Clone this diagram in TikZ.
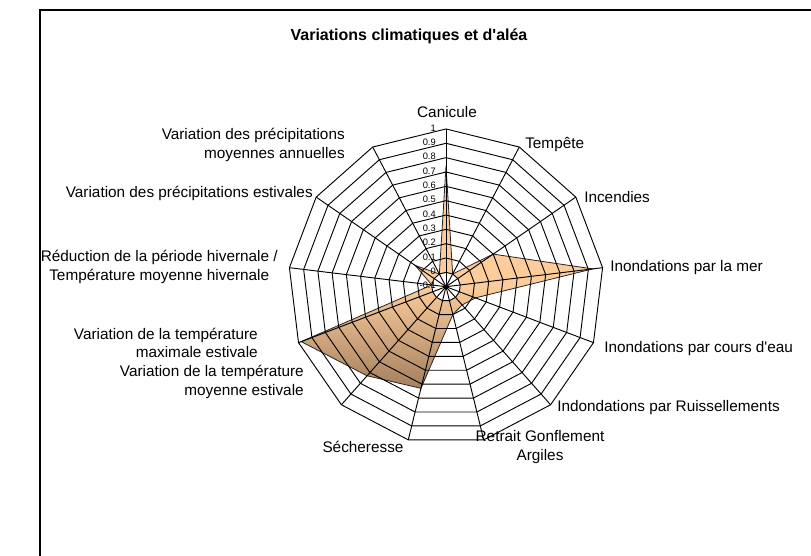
\documentclass[tikz,border=0pt]{standalone}
\usepackage{fontspec}
\newfontfamily\chartfont{Liberation Sans}
\definecolor{peachLight}{RGB}{252,204,154}
\definecolor{peachDark}{RGB}{163,128,95}
\pgfdeclareverticalshading{peachFade}{100bp}{color(0bp)=(peachDark); color(25bp)=(peachDark);
  color(48bp)=(peachLight); color(100bp)=(peachLight)}

\begin{document}
\begin{tikzpicture}
[x=0.75pt,y=0.75pt,
  gridLine/.style={line width=0.7pt,color=black},
  areaFill/.style={draw=black!85,line width=0.6pt,shading=peachFade},
  axisLabel/.style={font=\chartfont\fontsize{11.5}{14}\selectfont,inner sep=0pt},
  tickLabel/.style={font=\chartfont\fontsize{7}{8}\selectfont,anchor=east,inner sep=0pt},
  titleText/.style={font=\chartfont\fontsize{12}{14}\selectfont\bfseries,inner sep=0pt}]
\useasboundingbox (0,0) rectangle (811,-556);
%% frame and title
\draw[line width=0.8pt] (40,-556) -- (40,-10) -- (811,-10);
\node[titleText] (title) at (409,-36) {Variations climatiques et d'aléa};
\begin{scope}[shift={(446,-286.7)}]
%% axis ends and data points
\coordinate (hub) at (0,0);
\foreach \v [count=\i from 0] in {0.74,0,0.3,0.93,0.12,0.07,0.1,0.63,0.73,0.98,0,0.16,0}
{
  \coordinate (tip\i) at ({90-\i*360/13}:157.7);
  \coordinate (val\i) at ({90-\i*360/13}:{143.4*(\v+0.1)});
}
%% the filled area
\shadedraw[areaFill] (val0) \foreach \i in {1,...,12}{ -- (val\i)} -- cycle;
\fill[white] (90:14.34) \foreach \i in {1,...,12}{ -- ({90-\i*360/13}:14.34)} -- cycle;
%% rings and spokes
\foreach \k in {1,...,11}
{
  \draw[gridLine] (90:{\k*14.34}) \foreach \i in {1,...,12}{ -- ({90-\i*360/13}:{\k*14.34})} -- cycle;
}
\foreach \i in {0,...,12}
{
  \draw[gridLine] (hub) -- (tip\i);
}
%% scale
\foreach \t [count=\k from 0] in {-0.1,0,0.1,0.2,0.3,0.4,0.5,0.6,0.7,0.8,0.9,1}
{
  \node[tickLabel] (tick\k) at (-10,{\k*14.34+1}) {\t};
}
\fill (hub) circle (2);
\end{scope}
%% category labels
\node[axisLabel] (canicule) at (447,-112) {Canicule};
\node[axisLabel,anchor=west] (tempete) at (525,-145) {Tempête};
\node[axisLabel,anchor=west] (incendies) at (584,-197) {Incendies};
\node[axisLabel,anchor=west] (mer) at (610,-268) {Inondations par la mer};
\node[axisLabel,anchor=west] (coursdeau) at (604,-349) {Inondations par cours d'eau};
\node[axisLabel,anchor=west] (ruissel) at (557,-408) {Indondations par Ruissellements};
\node[axisLabel,align=center] (retrait) at (540,-447) {Retrait Gonflement\\Argiles};
\node[axisLabel] (secheresse) at (363,-447) {Sécheresse};
\node[axisLabel,anchor=east,align=right] (tempMoy) at (304,-382) {Variation de la température\\moyenne estivale};
\node[axisLabel,anchor=east,align=right] (tempMax) at (258,-343) {Variation de la température\\maximale estivale};
\node[axisLabel,anchor=east,align=center] (hiver) at (278,-267) {Réduction de la période hivernale /\\Température moyenne hivernale};
\node[axisLabel,anchor=east] (precipEte) at (313,-193) {Variation des précipitations estivales};
\node[axisLabel,anchor=east,align=right] (precipAn) at (345,-145) {Variation des précipitations\\moyennes annuelles};
\end{tikzpicture}
\end{document}
